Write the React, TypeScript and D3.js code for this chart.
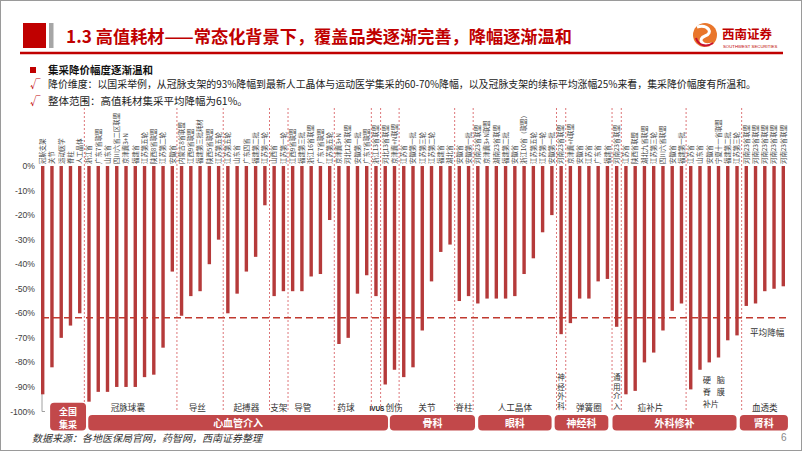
import React from "react";
import * as d3 from "d3";

// ---------- data ----------
const barLabels: string[] = [
  "冠脉支架", "关节", "运动医学", "脊柱", "人工晶体",
  "浙江省", "广东7省联盟", "山东省", "四川六省二区联盟", "京津冀3+N", "福建省", "江苏第五轮", "陕西8省联盟", "江苏第二轮", "安徽省",
  "内蒙古8省联盟", "江西9省联盟", "福建第三批耗材", "陕西5省联盟", "江苏第五轮",
  "江苏第五轮", "山东省", "广东四省", "福建第二批", "江苏第一轮",
  "山西省", "江苏第一轮",
  "江西9省联盟", "福建第三批", "浙江16省联盟", "广东7省联盟", "江苏第五轮",
  "京津冀3+N", "河北12省联盟", "安徽第一批", "广东7省联盟",
  "浙江13省联盟",
  "河北13省联盟", "京津冀+N联盟",
  "江苏省", "安徽第一批", "江苏第三轮", "江苏第二轮", "福建省", "湖北省",
  "安徽省", "安徽第一批",
  "河南23省联盟", "京津冀3+N联盟", "湖南23省联盟", "福建第二批", "安徽省", "浙江10省（联盟）", "江苏第五轮", "江苏第一轮", "安徽第一批",
  "河南23省联盟",
  "京津冀+N联盟", "安徽省", "江苏省", "广东省", "福建省",
  "河南23省联盟",
  "江苏省", "陕西省联盟", "湖北九省联盟", "江苏第三轮", "四川六省联盟", "安徽省", "福建第一批",
  "江苏省", "山东省", "安徽省", "宁夏十一省联盟", "福建第二批", "江苏第三轮",
  "河南23省联盟", "河南23省联盟", "河南23省联盟", "河南23省联盟", "河南23省联盟",
];

const barValues: number[] = [
  -93, -82, -70, -65, -60,
  -96, -92, -92, -90, -90, -90, -86, -85, -74, -43,
  -61, -53, -51, -40, -30,
  -60, -52, -43, -37, -16,
  -53, -51,
  -51, -51, -45, -44, -22,
  -72.5, -70, -52, -44.5,
  -53,
  -89, -83,
  -86, -82, -67, -47, -35, -32,
  -55, -53,
  -56, -54, -54, -54, -53, -44, -37.6, -27, -20,
  -68.5,
  -64, -54, -54, -47, -46,
  -65.5,
  -93, -91.6, -80, -76, -67, -59, -56,
  -91, -83, -80, -78, -71, -69,
  -57, -56, -51, -50, -49,
];

// sub-groups: name, number of bars
const groupNames: string[] = ["", "冠脉球囊", "导丝", "起搏器", "支架", "导管", "药球", "IVUS", "创伤", "关节", "脊柱", "人工晶体", "神经外科", "弹簧圈", "通用介入", "疝补片", "硬脑膜补片", "血透类"];
const groupCounts: number[] = [5, 10, 5, 5, 2, 5, 4, 1, 2, 6, 2, 9, 1, 5, 1, 7, 6, 5];
// label shift in bar-index units (label placement inside its group)
const groupLabelShift: number[] = [0, -0.3, -0.3, 0, 0, -0.9, -0.75, 0.1, 0.45, 0, 0, 0, 0, 0, 0, -0.35, 0, 0];

// big categories with fractional index extents
const majorNames: string[] = ["全国集采", "心血管介入", "骨科", "眼科", "神经科", "外科修补", "肾科"];
const majorFrom: number[] = [0.8, 4.92, 37.5, 47.04, 55.3, 61.55, 75.3];
const majorTo: number[] = [4.68, 37.3, 46.7, 54.97, 61.1, 74.95, 80.5];

const yTicks: number[] = [0, -10, -20, -30, -40, -50, -60, -70, -80, -90, -100];
const averageDrop = -61.8;

const CJK = "'Noto Sans CJK SC', 'Noto Sans', sans-serif";
const RED = "#c00000";
const BAR = "#b53a3a";
const BOX = "#c2484a";

export default function App() {
  const W = 802, H = 451;
  const x = d3.scaleLinear().domain([0, barValues.length - 1]).range([42.7, 783.3]);
  const y = d3.scaleLinear().domain([-100, 0]).range([411.5, 166]);

  const groups: { name: string; start: number; end: number; shift: number }[] = [];
  let acc = 0;
  groupNames.forEach((g, i) => {
    groups.push({ name: g, start: acc, end: acc + groupCounts[i] - 1, shift: groupLabelShift[i] });
    acc += groupCounts[i];
  });
  const separators = groups.slice(1).map((g) => x(g.start - 0.5));

  const barW = 3.4;

  return (
    <svg width={W} height={H} style={{ position: "absolute", left: 0, top: 0, background: "#fff" }} fontFamily={CJK}>
      <rect x={0.5} y={0.5} width={W - 1} height={H - 1} fill="#fff" stroke="#9a9a9a" />
      {/* header */}
      <rect x={23} y={23} width={23} height={25} fill={RED} />
      <rect x={49} y={23} width={4.5} height={25} fill="#a6a6a6" />
      <text x={66} y={43} fontSize={17.2} fontWeight="bold" fill={RED}>1.3 高值耗材——常态化背景下，覆盖品类逐渐完善，降幅逐渐温和</text>
      <line x1={20} x2={783} y1={53} y2={53} stroke={RED} strokeWidth={2.5} />
      {/* logo */}
      <g>
        <circle cx={705} cy={35} r={12} fill="#e9762b" />
        <path d="M697,27 C708,24 714,33 705,36 C697,39 702,47 712,44" fill="none" stroke="#fff" strokeWidth={3} />
        <path d="M696,38 C698,45 706,48 713,43" fill="none" stroke="#c8102e" strokeWidth={2} />
        <text x={722} y={39} fontSize={12.5} fontWeight="bold" fill={RED} fontFamily="'Noto Sans CJK SC', serif">西南证券</text>
        <text x={723} y={47.5} fontSize={4.3} fill={RED} fontFamily="Arial, 'Liberation Sans', sans-serif">SOUTHWEST SECURITIES</text>
      </g>
      {/* bullets */}
      <rect x={30} y={67} width={6} height={6} fill={RED} />
      <text x={48} y={74} fontSize={10.5} fontWeight="bold" fill="#111">集采降价幅度逐渐温和</text>
      <text x={30} y={88} fontSize={10.5} fill={RED}>√</text>
      <text x={48} y={88} fontSize={10.5} fill="#222" textLength={708} lengthAdjust="spacingAndGlyphs">降价维度：以国采举例，从冠脉支架的93%降幅到最新人工晶体与运动医学集采的60-70%降幅，以及冠脉支架的续标平均涨幅25%来看，集采降价幅度有所温和。</text>
      <text x={30} y={105} fontSize={10.5} fill={RED}>√</text>
      <text x={48} y={105} fontSize={10.5} fill="#222">整体范围：高值耗材集采平均降幅为61%。</text>

      {/* separators */}
      {separators.map((sx, i) => (
        <line key={"s" + i} x1={sx} x2={sx} y1={108} y2={412} stroke="#d9676a" strokeWidth={0.9} strokeDasharray="2,2" />
      ))}

      {/* y axis */}
      <line x1={42} x2={42} y1={y(0)} y2={y(-100)} stroke="#a0a0a0" strokeWidth={1} />
      <line x1={42} x2={45} y1={y(-100)} y2={y(-100)} stroke="#a0a0a0" strokeWidth={1} />
      {yTicks.map((t) => (
        <text key={"t" + t} x={35} y={y(t) + 3} fontSize={8.6} textAnchor="end" fill="#404040" fontFamily="Arial, 'Liberation Sans', sans-serif">{t}%</text>
      ))}

      {/* bars */}
      {barValues.map((v, i) => (
        <rect key={"b" + i} x={x(i) - barW / 2} y={y(0)} width={barW} height={y(v) - y(0)} fill={BAR} />
      ))}

      {/* bar labels */}
      {barLabels.map((l, i) => (
        <text key={"l" + i} transform={`translate(${x(i) + 2.3},${y(0) - 2}) rotate(-90)`} fontSize={6.4} fill="#444">{l}</text>
      ))}

      {/* average line */}
      <line x1={42} x2={790} y1={y(averageDrop)} y2={y(averageDrop)} stroke="#c0392f" strokeWidth={1.4} strokeDasharray="7,4" />
      <text x={750} y={y(averageDrop) + 18} fontSize={8.6} fill="#333">平均降幅</text>

      {/* group labels */}
      {groups.map((g, i) => {
        if (!g.name) return null;
        const cx = x((g.start + g.end) / 2 + g.shift);
        if (g.name === "神经外科" || g.name === "通用介入") {
          const chars = g.name.split("");
          return (
            <g key={"g" + i}>
              {chars.map((c, k) => (
                <text key={k} x={cx} y={380 + k * 9.7} fontSize={7.5} textAnchor="middle" fill="#333">{c}</text>
              ))}
            </g>
          );
        }
        if (g.name === "硬脑膜补片") {
          return (
            <g key={"g" + i} fontSize={8.2} fill="#333" textAnchor="middle">
              <text x={cx - 7} y={383}>硬</text>
              <text x={cx + 7} y={383}>脑</text>
              <text x={cx - 7} y={395}>脊</text>
              <text x={cx + 7} y={395}>膜</text>
              <text x={cx - 3} y={406.5}>补片</text>
            </g>
          );
        }
        if (g.name === "IVUS") {
          return (
            <text key={"g" + i} x={cx} y={411} fontSize={7.4} fontWeight="bold" textAnchor="middle" fill="#222" fontFamily="Arial, 'Liberation Sans', sans-serif" textLength={15} lengthAdjust="spacingAndGlyphs">IVUS</text>
          );
        }
        return (
          <text key={"g" + i} x={cx} y={411} fontSize={8.6} textAnchor="middle" fill="#333">{g.name}</text>
        );
      })}

      {/* major category boxes */}
      {majorNames.map((m, i) => {
        const x0 = x(majorFrom[i]);
        const x1 = x(majorTo[i]);
        const first = i === 0;
        const top = first ? 402.7 : 415;
        return (
          <g key={"m" + i}>
            <rect x={x0} y={top} width={x1 - x0} height={430.5 - top} rx={4} fill={BOX} />
            {first ? (
              <>
                <text x={(x0 + x1) / 2} y={415} fontSize={9} fontWeight="bold" fill="#fff" textAnchor="middle">全国</text>
                <text x={(x0 + x1) / 2} y={427.5} fontSize={9} fontWeight="bold" fill="#fff" textAnchor="middle">集采</text>
              </>
            ) : (
              <text x={(x0 + x1) / 2} y={426.5} fontSize={10} fontWeight="bold" fill="#fff" textAnchor="middle">{m}</text>
            )}
          </g>
        );
      })}

      {/* footer */}
      <text x={32} y={442} fontSize={10} fontStyle="italic" fill="#333">数据来源：各地医保局官网，药智网，西南证券整理</text>
      <text x={781} y={441} fontSize={10} fill="#888" fontFamily="Arial, sans-serif">6</text>
    </svg>
  );
}
